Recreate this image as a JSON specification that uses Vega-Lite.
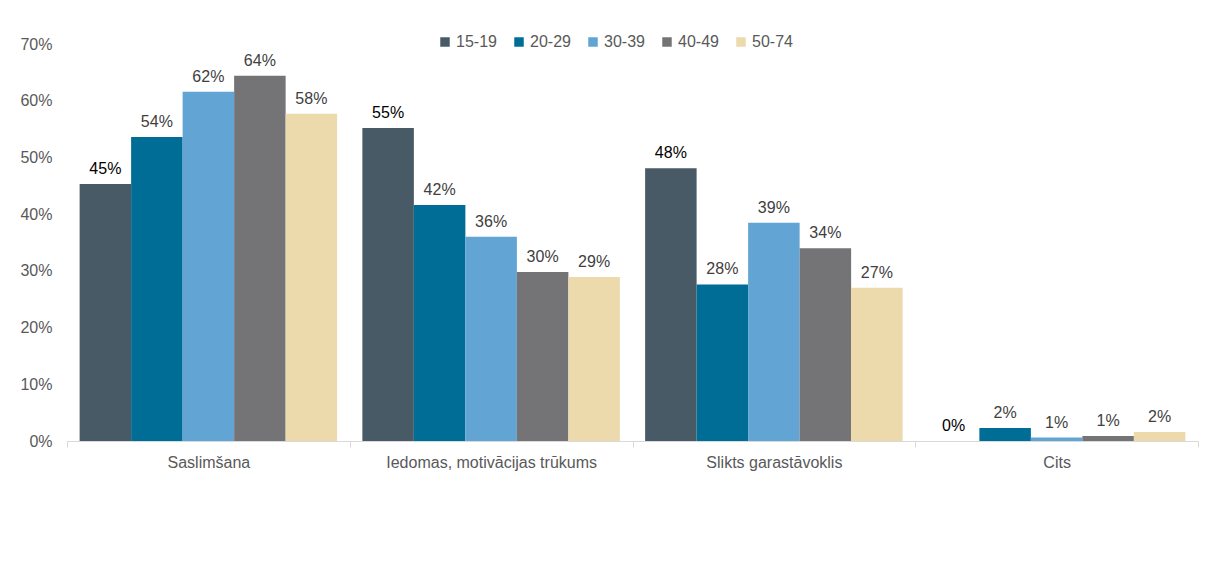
{
  "$schema": "https://vega.github.io/schema/vega-lite/v6.json",
  "autosize": {"type": "none"},
  "width": 1131,
  "height": 397,
  "padding": {"left": 67, "top": 44, "right": 19, "bottom": 133},
  "background": "white",
  "config": {
    "view": {"stroke": null},
    "font": "Liberation Sans"
  },
  "data": {
    "values": [
      {"cat": "Saslimšana", "age": "15-19", "v": 0.453},
      {"cat": "Saslimšana", "age": "20-29", "v": 0.536},
      {"cat": "Saslimšana", "age": "30-39", "v": 0.616},
      {"cat": "Saslimšana", "age": "40-49", "v": 0.644},
      {"cat": "Saslimšana", "age": "50-74", "v": 0.577},
      {"cat": "Iedomas, motivācijas trūkums", "age": "15-19", "v": 0.552},
      {"cat": "Iedomas, motivācijas trūkums", "age": "20-29", "v": 0.416},
      {"cat": "Iedomas, motivācijas trūkums", "age": "30-39", "v": 0.36},
      {"cat": "Iedomas, motivācijas trūkums", "age": "40-49", "v": 0.298},
      {"cat": "Iedomas, motivācijas trūkums", "age": "50-74", "v": 0.289},
      {"cat": "Slikts garastāvoklis", "age": "15-19", "v": 0.481},
      {"cat": "Slikts garastāvoklis", "age": "20-29", "v": 0.276},
      {"cat": "Slikts garastāvoklis", "age": "30-39", "v": 0.385},
      {"cat": "Slikts garastāvoklis", "age": "40-49", "v": 0.34},
      {"cat": "Slikts garastāvoklis", "age": "50-74", "v": 0.27},
      {"cat": "Cits", "age": "15-19", "v": 0.0},
      {"cat": "Cits", "age": "20-29", "v": 0.023},
      {"cat": "Cits", "age": "30-39", "v": 0.006},
      {"cat": "Cits", "age": "40-49", "v": 0.009},
      {"cat": "Cits", "age": "50-74", "v": 0.016}
    ]
  },
  "encoding": {
    "x": {
      "field": "cat", "type": "nominal", "sort": null, "title": null,
      "scale": {"paddingInner": 0, "paddingOuter": 0},
      "axis": {"labelAngle": 0, "domainColor": "#d9d9d9", "tickColor": "#d9d9d9", "tickBand": "extent", "tickSize": 6, "labelPadding": 7, "labelLimit": 300, "labelFontSize": 16, "labelColor": "#595959", "labelFont": "Liberation Sans"}
    },
    "xOffset": {"field": "age", "type": "nominal", "sort": null, "scale": {"paddingInner": 0, "paddingOuter": 0.245}},
    "y": {
      "field": "v", "type": "quantitative", "title": null,
      "scale": {"domain": [0, 0.7], "nice": false},
      "axis": {"format": ".0%", "values": [0, 0.1, 0.2, 0.3, 0.4, 0.5, 0.6, 0.7], "labelOverlap": false, "grid": false, "domain": false, "ticks": false, "labelPadding": 15, "labelFontSize": 16, "labelColor": "#595959", "labelFont": "Liberation Sans"}
    }
  },
  "layer": [
    {
      "mark": {"type": "bar"},
      "encoding": {
        "color": {
          "field": "age", "type": "nominal", "sort": null, "title": null,
          "scale": {"domain": ["15-19", "20-29", "30-39", "40-49", "50-74"], "range": ["#495a67", "#006d96", "#62a4d3", "#747476", "#ecdaac"]},
          "legend": {
            "orient": "none", "legendX": 370, "legendY": -10, "direction": "horizontal",
            "symbolType": "square", "symbolSize": 90, "symbolStrokeWidth": 0,
            "labelFontSize": 16, "labelColor": "#595959", "labelFont": "Liberation Sans",
            "columnPadding": 14, "labelOffset": 3
          }
        }
      }
    },
    {
      "mark": {"type": "text", "baseline": "bottom", "dy": -7, "fontSize": 16, "font": "Liberation Sans"},
      "encoding": {
        "text": {"field": "v", "type": "quantitative", "format": ".0%"},
        "color": {"condition": {"test": "datum.age === '15-19'", "value": "#000000"}, "value": "#404040"}
      }
    }
  ]
}
